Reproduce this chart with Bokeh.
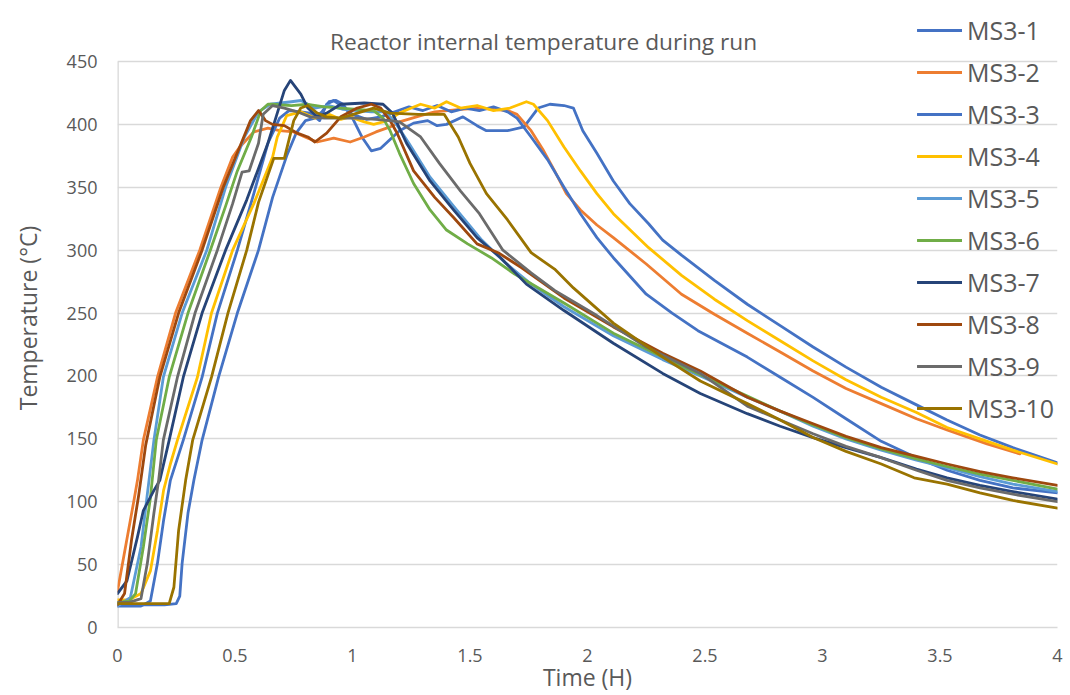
from bokeh.plotting import figure
from bokeh.models import Range1d, FixedTicker, Legend, LegendItem, Label
from bokeh.embed import file_html
from bokeh.resources import INLINE

# ---------------- data (time in hours, temperature in °C) ----------------
series_names = ["MS3-1", "MS3-2", "MS3-3", "MS3-4", "MS3-5",
                "MS3-6", "MS3-7", "MS3-8", "MS3-9", "MS3-10"]

t_ms3_1 = [0, 0.1, 0.2, 0.25, 0.265, 0.275, 0.30, 0.325, 0.36, 0.43, 0.51, 0.60, 0.66, 0.72, 0.76, 0.80, 0.84, 0.87,
           0.90, 0.93, 0.96, 1.0, 1.04, 1.08, 1.12, 1.16, 1.2, 1.26, 1.32, 1.36, 1.40, 1.47, 1.53, 1.57, 1.66, 1.73,
           1.79, 1.84, 1.90, 1.94, 1.98, 2.04, 2.11, 2.18, 2.26, 2.32, 2.40, 2.54, 2.68, 2.82, 2.96, 3.1, 3.25, 3.4,
           3.53, 3.67, 3.81, 4.0]
temp_ms3_1 = [18, 18, 18, 19, 25, 51, 91, 117, 149, 199, 250, 300, 342, 375, 393, 403, 405, 410,
              418, 419, 416, 405, 390, 379, 381, 388, 395, 401, 403, 399, 400, 406, 399, 395, 395, 398,
              413, 416, 415, 413, 395, 377, 355, 337, 321, 308, 296, 276, 257, 240, 223, 207, 191, 177,
              165, 153, 143, 131]

t_ms3_2 = [0, 0.034, 0.07, 0.085, 0.11, 0.17, 0.247, 0.35, 0.44, 0.49, 0.52, 0.58, 0.64, 0.69, 0.75, 0.81, 0.85,
           0.92, 0.99, 1.05, 1.10, 1.16, 1.20, 1.29, 1.35, 1.46, 1.54, 1.66, 1.70, 1.76, 1.81, 1.86, 1.91, 1.97,
           2.04, 2.11, 2.25, 2.40, 2.54, 2.68, 2.82, 2.96, 3.1, 3.25, 3.4, 3.53, 3.7, 3.84]
temp_ms3_2 = [29, 64, 101, 117, 149, 199, 250, 300, 350, 374, 382, 394, 397, 395, 394, 389, 386,
              389, 386, 390, 394, 398, 402, 407, 410, 412, 413, 411, 408, 395, 380, 363, 345, 332,
              320, 310, 289, 265, 249, 234, 219, 204, 190, 178, 166, 157, 146, 138]

t_ms3_3 = [0, 0.1, 0.14, 0.17, 0.196, 0.225, 0.28, 0.36, 0.425, 0.51, 0.58, 0.64, 0.69, 0.73, 0.78, 0.82, 0.86,
           0.89, 0.92, 0.96, 1.0, 1.06, 1.12, 1.18, 1.24, 1.30, 1.36, 1.42, 1.48, 1.54, 1.60, 1.66, 1.70, 1.76,
           1.83, 1.90, 1.97, 2.04, 2.11, 2.25, 2.36, 2.47, 2.58, 2.68, 2.82, 2.96, 3.1, 3.25, 3.4, 3.53, 3.67,
           3.81, 4.0]
temp_ms3_3 = [17, 17, 21, 51, 85, 117, 149, 199, 250, 300, 345, 385, 405, 411, 410, 409, 403,
              416, 419, 414, 408, 404, 406, 410, 414, 411, 415, 410, 413, 411, 414, 410, 405, 390,
              372, 350, 329, 310, 294, 265, 250, 236, 225, 215, 199, 183, 166, 148, 135, 125, 117,
              111, 107]

t_ms3_4 = [0, 0.05, 0.1, 0.14, 0.17, 0.196, 0.225, 0.255, 0.34, 0.40, 0.49, 0.58, 0.66, 0.68, 0.72, 0.78, 0.84,
           0.90, 0.95, 0.99, 1.05, 1.09, 1.15, 1.2, 1.25, 1.29, 1.35, 1.40, 1.46, 1.53, 1.60, 1.67, 1.74, 1.77,
           1.83, 1.90, 1.97, 2.04, 2.11, 2.26, 2.40, 2.54, 2.68, 2.82, 2.96, 3.1, 3.25, 3.4, 3.53, 3.67, 3.81, 4.0]
temp_ms3_4 = [22, 22, 27, 45, 77, 109, 130, 149, 199, 250, 300, 337, 374, 390, 407, 410, 405,
              408, 404, 406, 402, 400, 403, 409, 413, 416, 413, 418, 413, 415, 411, 413, 418, 416,
              403, 382, 363, 345, 329, 302, 280, 261, 244, 228, 212, 197, 183, 171, 159, 150, 141, 130]

t_ms3_5 = [0, 0.055, 0.10, 0.125, 0.155, 0.195, 0.275, 0.38, 0.46, 0.54, 0.60, 0.65, 0.74, 0.78, 0.84, 0.90,
           0.96, 1.02, 1.08, 1.14, 1.18, 1.24, 1.33, 1.43, 1.55, 1.65, 1.76, 1.90, 2.11, 2.32, 2.48, 2.68, 2.82,
           2.96, 3.1, 3.25, 3.4, 3.53, 3.67, 3.81, 4.0]
temp_ms3_5 = [17, 24, 64, 103, 149, 199, 250, 300, 350, 390, 410, 416, 418, 419, 413, 415,
              412, 411, 410, 410, 402, 385, 358, 335, 308, 290, 273, 255, 232, 213, 200, 183, 172,
              160, 150, 141, 133, 127, 120, 114, 108]

t_ms3_6 = [0, 0.05, 0.077, 0.11, 0.14, 0.165, 0.22, 0.30, 0.395, 0.46, 0.51, 0.57, 0.61, 0.64, 0.66, 0.74, 0.81,
           0.88, 0.95, 1.02, 1.09, 1.13, 1.16, 1.20, 1.26, 1.33, 1.40, 1.49, 1.59, 1.69, 1.90, 2.11, 2.32, 2.48,
           2.68, 2.82, 2.96, 3.1, 3.25, 3.4, 3.53, 3.67, 3.81, 4.0]
temp_ms3_6 = [20, 21, 27, 64, 103, 149, 199, 250, 300, 335, 363, 390, 411, 416, 416, 415, 416,
              414, 413, 412, 411, 405, 395, 377, 353, 332, 316, 305, 294, 281, 258, 234, 215, 201,
              184, 172, 161, 151, 142, 134, 128, 122, 117, 110]

t_ms3_7 = [0, 0.04, 0.085, 0.11, 0.155, 0.18, 0.22, 0.28, 0.36, 0.46, 0.55, 0.60, 0.64, 0.67, 0.71, 0.736, 0.78,
           0.81, 0.85, 0.89, 0.95, 1.05, 1.13, 1.17, 1.23, 1.33, 1.43, 1.53, 1.63, 1.74, 1.90, 2.11, 2.32, 2.48,
           2.68, 2.82, 2.96, 3.1, 3.25, 3.4, 3.53, 3.67, 3.81, 4.0]
temp_ms3_7 = [27, 37, 72, 93, 109, 117, 149, 199, 250, 300, 340, 365, 385, 403, 427, 435, 424,
              413, 406, 409, 416, 417, 416, 409, 385, 355, 332, 310, 294, 273, 252, 226, 202, 186,
              170, 160, 151, 143, 135, 126, 119, 113, 108, 102]

t_ms3_8 = [0, 0.03, 0.06, 0.09, 0.12, 0.18, 0.26, 0.36, 0.45, 0.52, 0.566, 0.60, 0.63, 0.66, 0.71, 0.765, 0.81,
           0.84, 0.89, 0.95, 1.02, 1.08, 1.12, 1.16, 1.19, 1.26, 1.35, 1.43, 1.53, 1.62, 1.72, 1.90, 2.11, 2.32,
           2.48, 2.68, 2.82, 2.96, 3.1, 3.25, 3.4, 3.53, 3.67, 3.81, 4.0]
temp_ms3_8 = [18, 27, 70, 105, 145, 199, 250, 300, 350, 382, 403, 411, 403, 400, 399, 393, 390,
              386, 393, 406, 413, 416, 413, 403, 393, 363, 342, 326, 305, 298, 286, 262, 239, 218,
              204, 183, 172, 162, 152, 143, 136, 130, 124, 119, 113]

t_ms3_9 = [0, 0.05, 0.1, 0.127, 0.155, 0.175, 0.195, 0.255, 0.33, 0.425, 0.49, 0.53, 0.56, 0.60, 0.62, 0.66,
           0.71, 0.765, 0.82, 0.88, 0.95, 1.02, 1.10, 1.16, 1.20, 1.29, 1.37, 1.46, 1.54, 1.64, 1.76, 1.86, 2.04,
           2.25, 2.48, 2.68, 2.82, 2.96, 3.1, 3.25, 3.4, 3.53, 3.67, 3.81, 4.0]
temp_ms3_9 = [20, 20, 23, 51, 91, 117, 149, 199, 250, 300, 337, 362, 363, 385, 408, 415,
              413, 410, 406, 405, 405, 405, 404, 403, 402, 390, 369, 347, 329, 300, 282, 268, 248,
              223, 202, 176, 165, 154, 144, 135, 125, 117, 111, 106, 100]

t_ms3_10 = [0, 0.1, 0.22, 0.24, 0.26, 0.29, 0.32, 0.40, 0.47, 0.55, 0.60, 0.665, 0.71, 0.75, 0.78, 0.81, 0.85,
            0.89, 0.95, 1.02, 1.09, 1.16, 1.28, 1.39, 1.45, 1.50, 1.57, 1.66, 1.76, 1.86, 1.94, 2.11, 2.32, 2.48,
            2.68, 2.82, 2.96, 3.1, 3.25, 3.39, 3.53, 3.67, 3.81, 4.0]
temp_ms3_10 = [19, 19, 19, 32, 77, 117, 149, 199, 250, 300, 338, 373, 373, 403, 413, 415, 409,
               406, 405, 409, 413, 409, 408, 408, 390, 369, 345, 324, 298, 285, 270, 242, 215, 196,
               178, 165, 151, 140, 130, 119, 114, 107, 101, 95]

series_colors = ["#4472C4", "#ED7D31", "#4472C4", "#FFC000", "#5B9BD5",
                 "#70AD47", "#264478", "#9E480E", "#6B6B6B", "#997300"]

x_ticks = [0, 0.5, 1, 1.5, 2, 2.5, 3, 3.5, 4]
x_tick_labels = ["0", "0.5", "1", "1.5", "2", "2.5", "3", "3.5", "4"]
y_ticks = [0, 50, 100, 150, 200, 250, 300, 350, 400, 450]

title_text = "Reactor internal temperature during run"
x_title = "Time (H)"
y_title = "Temperature (°C)"

all_t = [t_ms3_1, t_ms3_2, t_ms3_3, t_ms3_4, t_ms3_5, t_ms3_6, t_ms3_7, t_ms3_8, t_ms3_9, t_ms3_10]
all_temp = [temp_ms3_1, temp_ms3_2, temp_ms3_3, temp_ms3_4, temp_ms3_5,
            temp_ms3_6, temp_ms3_7, temp_ms3_8, temp_ms3_9, temp_ms3_10]

# ---------------- figure ----------------
FONT = "Open Sans"
TXT = "#595959"
GRID = "#D9D9D9"

Y_MAX_AXIS = y_ticks[-1]
# frame extends above the 450 line so that the title and legend (which sit above it) are not clipped
Y_TOP = Y_MAX_AXIS + 53 / (566 / 450)

p = figure(width=1070, height=695, x_range=Range1d(0, 4), y_range=Range1d(0, Y_TOP),
           output_backend="svg", toolbar_location=None,
           min_border_left=117, min_border_right=13, min_border_top=8, min_border_bottom=68)
p.outline_line_color = None
p.background_fill_color = "white"
p.border_fill_color = "white"

p.xgrid.grid_line_color = None
p.ygrid.grid_line_color = GRID
p.ygrid.grid_line_width = 1.3
p.ygrid.ticker = FixedTicker(ticks=y_ticks)

p.xaxis.ticker = FixedTicker(ticks=x_ticks)
p.xaxis.major_label_overrides = {v: s for v, s in zip(x_ticks, x_tick_labels)}
p.yaxis.ticker = FixedTicker(ticks=y_ticks)

for ax in (p.xaxis, p.yaxis):
    ax.major_tick_line_color = None
    ax.minor_tick_line_color = None
    ax.major_tick_out = 0
    ax.major_tick_in = 0
    ax.minor_tick_out = 0
    ax.major_label_text_font = FONT
    ax.major_label_text_font_size = "18px"
    ax.major_label_text_color = TXT
    ax.axis_label_text_font = FONT
    ax.axis_label_text_font_size = "23px"
    ax.axis_label_text_font_style = "normal"
    ax.axis_label_text_color = TXT

p.xaxis.axis_line_color = GRID
p.xaxis.axis_line_width = 1.3
p.yaxis.axis_line_color = None

p.xaxis.axis_label = x_title
p.yaxis.axis_label = y_title
p.xaxis.major_label_standoff = 21
p.yaxis.major_label_standoff = 20
p.xaxis.axis_label_standoff = -4
p.yaxis.axis_label_standoff = 20

# vertical axis line only from 0 to 450
p.segment(x0=[0], y0=[0], x1=[0], y1=[Y_MAX_AXIS], line_color=GRID, line_width=2.6)

items = []
for name, tt, yy, col in zip(series_names, all_t, all_temp, series_colors):
    r = p.line(tt, yy, line_color=col, line_width=2.8, line_join="round", line_cap="round")
    items.append(LegendItem(label=name, renderers=[r]))

legend = Legend(items=items, location=(800, 202), orientation="vertical",
                label_text_font=FONT, label_text_font_size="25px", label_text_color=TXT,
                glyph_width=45, glyph_height=30, label_height=30, label_standoff=5,
                spacing=8, padding=0, margin=0,
                border_line_color=None, background_fill_alpha=0)
p.add_layout(legend)

title = Label(x=1.813, y=466, text=title_text, text_align="center", text_baseline="middle",
              text_font=FONT, text_font_size="22.7px", text_color=TXT)
p.add_layout(title)

open("out.html", "w").write(file_html(p, INLINE))
